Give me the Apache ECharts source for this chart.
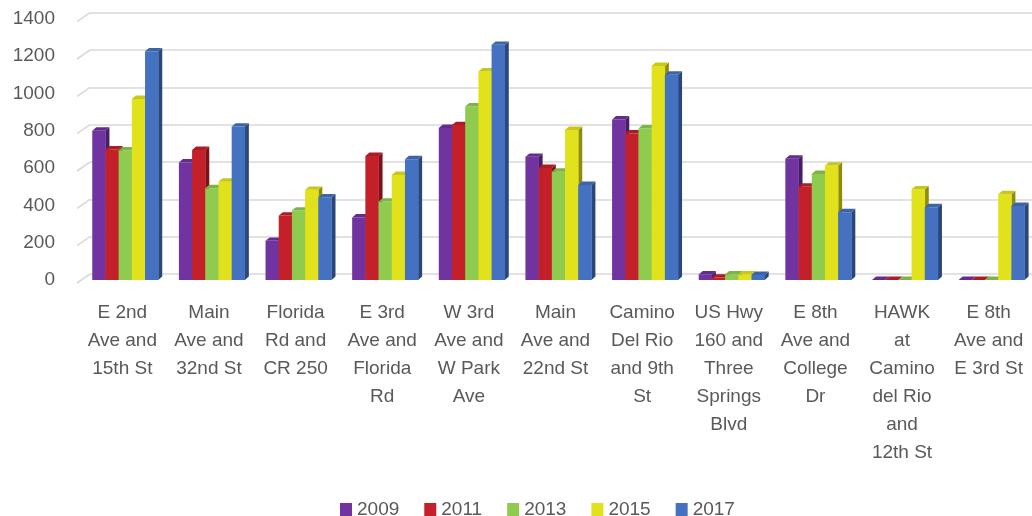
<!DOCTYPE html>
<html><head><meta charset="utf-8">
<script src="https://cdn.jsdelivr.net/npm/echarts@6/dist/echarts.min.js"></script>
<style>html,body{margin:0;padding:0;background:#fff}#c{width:1032px;height:516px}</style>
</head><body><div id="c"></div>
<script>
const categories = [
  "E 2nd\nAve and\n15th St",
  "Main\nAve and\n32nd St",
  "Florida\nRd and\nCR 250",
  "E 3rd\nAve and\nFlorida\nRd",
  "W 3rd\nAve and\nW Park\nAve",
  "Main\nAve and\n22nd St",
  "Camino\nDel Rio\nand 9th\nSt",
  "US Hwy\n160 and\nThree\nSprings\nBlvd",
  "E 8th\nAve and\nCollege\nDr",
  "HAWK\nat\nCamino\ndel Rio\nand\n12th St",
  "E 8th\nAve and\nE 3rd St"
];
const years = ["2009", "2011", "2013", "2015", "2017"];
const v2009 = [800, 630, 210, 335, 815, 660, 860, 30, 650, 0, 0];
const v2011 = [700, 697, 345, 665, 830, 600, 785, 13, 500, 0, 0];
const v2013 = [695, 492, 372, 420, 930, 580, 812, 30, 568, 0, 0];
const v2015 = [970, 527, 483, 563, 1117, 804, 1147, 30, 613, 486, 460];
const v2017 = [1225, 822, 443, 647, 1260, 509, 1100, 27, 363, 390, 397];
const yTicks = [0, 200, 400, 600, 800, 1000, 1200, 1400];

const seriesValues = [v2009, v2011, v2013, v2015, v2017];
const colors = ["#7133A0", "#C4202A", "#8FCB4F", "#E2E21C", "#4472C0"];
const FONT = "'Liberation Sans', Arial, sans-serif";
const TXT = "#595959";

function shade(hex, f) {
  const n = parseInt(hex.slice(1), 16);
  let r = (n >> 16) & 255, g = (n >> 8) & 255, b = n & 255;
  const m = c => Math.round(f < 0 ? c * (1 + f) : c + (255 - c) * f);
  return "rgb(" + m(r) + "," + m(g) + "," + m(b) + ")";
}

const BAR_FRAC = 0.1523, START_FRAC = -0.347, DX = 4, DY = 3.4;

function makeBar(k) {
  return function (params, api) {
    const i = api.value(0), v = api.value(1);
    const b = api.coord([i, 0]);
    const t = api.coord([i, v]);
    const cw = api.size([1, 0])[0];
    const w = cw * BAR_FRAC;
    const x0 = b[0] + cw * START_FRAC + k * w;
    const x1 = x0 + w, yb = b[1], yt = t[1];
    const c = colors[k];
    return {
      type: "group",
      children: [
        { type: "polygon", shape: { points: [[x1, yb], [x1, yt], [x1 + DX, yt - DY], [x1 + DX, yb - DY]] }, style: { fill: shade(c, -0.38) } },
        { type: "rect", shape: { x: x0, y: yt, width: w + 0.3, height: yb - yt }, style: { fill: c } },
        { type: "polygon", shape: { points: [[x0, yt], [x1, yt], [x1 + DX, yt - DY], [x0 + DX, yt - DY]] }, style: { fill: shade(c, -0.12) } }
      ]
    };
  };
}

const chart = echarts.init(document.getElementById("c"), null, { renderer: "canvas" });

const barSeries = years.map((y, k) => ({
  name: y,
  type: "custom",
  xAxisIndex: 0,
  yAxisIndex: 0,
  renderItem: makeBar(k),
  itemStyle: { color: colors[k] },
  encode: { x: 0, y: 1 },
  data: seriesValues[k].map((v, i) => [i, v]),
  z: 3
}));

const option = {
  backgroundColor: "#ffffff",
  animation: false,
  textStyle: { fontFamily: FONT },
  grid: [
    { left: 79, top: 18.7, height: 261.3, width: 960, containLabel: false },
    { left: 90, top: 12.7, height: 261.3, width: 960, containLabel: false }
  ],
  legend: {
    data: years,
    left: 340,
    top: 500,
    padding: 0,
    icon: "rect",
    itemWidth: 12,
    itemHeight: 13,
    itemGap: 25,
    textStyle: { fontSize: 19, color: TXT, fontFamily: FONT }
  },
  xAxis: [
    {
      type: "category",
      gridIndex: 0,
      data: categories,
      axisLine: { show: false },
      axisTick: { show: false },
      axisLabel: { interval: 0, fontSize: 19, lineHeight: 28, margin: 19, color: TXT, fontFamily: FONT }
    },
    { type: "value", gridIndex: 1, min: 0, max: 1, show: false }
  ],
  yAxis: [
    {
      type: "value",
      gridIndex: 0,
      min: 0, max: 1400, interval: 200,
      axisLine: { show: false },
      axisTick: { show: false },
      splitLine: { show: false },
      axisLabel: { fontSize: 19, color: TXT, margin: 24, fontFamily: FONT, formatter: v => String(v) }
    },
    {
      type: "value",
      gridIndex: 1,
      min: 0, max: 1400, interval: 200,
      axisLine: { show: false },
      axisTick: { show: false },
      axisLabel: { show: false },
      splitLine: { show: true, lineStyle: { color: "#d9d9d9", width: 1.6 } }
    }
  ],
  series: barSeries.concat([{
    name: "wall",
    type: "custom",
    xAxisIndex: 1,
    yAxisIndex: 1,
    silent: true,
    z: 1,
    encode: { x: 0, y: 1 },
    data: yTicks.map(v => [0, v]),
    renderItem: function (params, api) {
      const p = api.coord([0, api.value(1)]);
      return { type: "line", shape: { x1: p[0] - 13, y1: p[1] + 9, x2: p[0], y2: p[1] }, style: { stroke: "#d9d9d9", lineWidth: 1.6 } };
    }
  }])
};
chart.setOption(option);
</script>
</body></html>
